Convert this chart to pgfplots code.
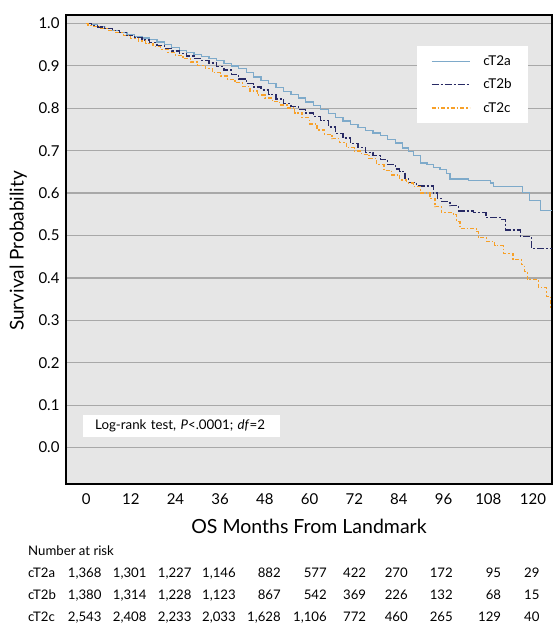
\documentclass[border=0pt]{standalone}
\usepackage{pgfplots}
\pgfplotsset{compat=1.18}
\usepackage{fontspec}
\setmainfont{Lato}
\definecolor{cA}{RGB}{126,170,202}
\definecolor{cB}{RGB}{40,42,100}
\definecolor{cC}{RGB}{247,160,40}
\definecolor{bgc}{RGB}{230,230,230}
\definecolor{gridc}{RGB}{168,168,168}
\begin{document}
\begin{tikzpicture}[x=1pt,y=1pt]
\useasboundingbox (0,0) rectangle (553,624);
\begin{axis}[
  at={(66pt,140pt)}, anchor=south west,
  width=486pt, height=469pt, scale only axis,
  xmin=-5.4, xmax=125.1, ymin=-0.086, ymax=1.02,
  axis background/.style={fill=bgc},
  ymajorgrids, grid style={gridc, line width=1.2pt},
  axis line style={black, line width=2.2pt},
  major tick length=0pt,
  xtick={0,12,24,36,48,60,72,84,96,108,120},
  ytick={0,0.1,0.2,0.3,0.4,0.5,0.6,0.7,0.8,0.9,1.0},
  /pgf/number format/assume math mode=true,
  yticklabel style={/pgf/number format/fixed, /pgf/number format/precision=1, /pgf/number format/fixed zerofill, font=\fontsize{15}{17}\selectfont, xshift=-3pt},
  xticklabel style={font=\fontsize{15}{17}\selectfont, yshift=-6pt},
  xlabel={OS Months From Landmark},
  xlabel style={at={(axis description cs:0.5,0)}, anchor=center, yshift=-42.7pt, font=\fontsize{19.5}{21}\selectfont},
  ylabel={Survival Probability},
  ylabel style={at={(axis description cs:-0.0981,0.497)}, anchor=center, font=\fontsize{19}{21}\selectfont},
  clip=true,
  legend style={at={(axis description cs:0.722,0.934)}, anchor=north west, draw=none, fill=white,
    font=\fontsize{13.5}{15}\selectfont, inner xsep=14pt, inner ysep=7.5pt, row sep=8pt,
    /tikz/every odd column/.append style={column sep=11pt}},
  legend cell align=left,
  legend image code/.code={\draw[#1, line width=1.3pt] (0pt,0pt) -- (38pt,0pt);},
]
\addplot[const plot, cA, line width=1.3pt] coordinates {
(0,1.000) (1.5,0.997) (3,0.993) (5,0.988) (7,0.984) (9,0.979) (11,0.974) (13,0.970)
(15,0.966) (17,0.962) (19,0.956) (21,0.950) (23,0.943) (25,0.937) (27,0.932) (29,0.927)
(31,0.922) (33,0.918) (35,0.912) (37,0.906) (39,0.900) (41,0.893) (43,0.884) (45,0.874)
(47,0.866) (49,0.858) (51,0.849) (53,0.840) (55,0.832) (57,0.824) (59,0.815) (61,0.806)
(63,0.797) (65,0.788) (67,0.779) (69,0.770) (71,0.762) (73,0.755) (75,0.748) (77,0.742)
(79,0.735) (81,0.727) (83,0.718) (85,0.706) (86.5,0.698) (88,0.688) (89.7,0.671) (91.5,0.667)
(93.2,0.661) (95,0.655) (96.8,0.647) (97.7,0.633) (102.7,0.630) (108.5,0.624) (109.3,0.616)
(117.2,0.601) (119,0.583) (122,0.559) (125.1,0.559)
};
\addlegendentry{cT2a}
\addplot[const plot, cB, line width=1.3pt, dash pattern=on 7pt off 2pt on 2pt off 2pt] coordinates {
(0,1.000) (1.5,0.996) (3,0.992) (5,0.988) (7,0.983) (9,0.978) (11,0.972) (13,0.967)
(15,0.961) (17,0.955) (19,0.948) (21,0.941) (23,0.935) (25,0.929) (27,0.923) (29,0.918)
(31,0.913) (33,0.907) (35,0.899) (37,0.890) (39,0.879) (41,0.869) (43,0.858) (45,0.850)
(47,0.843) (49,0.833) (51,0.822) (53,0.812) (55,0.805) (57,0.797) (59,0.789) (61,0.781)
(63,0.771) (65,0.756) (67,0.741) (69,0.730) (71,0.717) (73,0.707) (75,0.695) (77,0.688)
(79,0.679) (81,0.668) (83,0.657) (84.2,0.651) (85.6,0.635) (86.6,0.625) (88.8,0.617)
(93.2,0.600) (94.3,0.588) (95.5,0.580) (97.7,0.570) (99.9,0.558) (104.1,0.554) (107.4,0.543)
(111.6,0.537) (112.7,0.513) (116.6,0.497) (119.6,0.469) (125.1,0.469)
};
\addlegendentry{cT2b}
\addplot[const plot, cC, line width=1.3pt, dash pattern=on 4pt off 2pt on 1.5pt off 2pt] coordinates {
(0,1.000) (0.5,0.996) (2,0.993) (4,0.988) (6,0.984) (8,0.979) (10,0.972) (12,0.965)
(14,0.959) (16,0.953) (18,0.946) (20,0.939) (22,0.932) (24,0.925) (26,0.917) (28,0.909)
(30,0.901) (32,0.893) (34,0.884) (36,0.876) (38,0.868) (40,0.860) (42,0.852) (44,0.841)
(46,0.831) (48,0.824) (50,0.816) (52,0.808) (54,0.801) (56,0.789) (58,0.778) (60,0.763)
(62,0.749) (64,0.739) (66,0.728) (68,0.719) (70,0.707) (72,0.699) (74,0.691) (76,0.681)
(78,0.667) (80,0.654) (82,0.643) (84.2,0.631) (86,0.624) (87.9,0.616) (89.7,0.600)
(92.3,0.588) (93.7,0.568) (95.4,0.554) (98.6,0.549) (99.5,0.533) (100.4,0.517) (104.8,0.509)
(105.3,0.496) (107.5,0.486) (109.7,0.476) (112,0.458) (114.6,0.444) (116.9,0.431)
(117.7,0.415) (118.5,0.396) (121.4,0.378) (123.6,0.356) (124.7,0.329) (125.1,0.329)
};
\addlegendentry{cT2c}
\node[fill=white, anchor=south west, minimum width=197pt, minimum height=22pt, inner xsep=12pt, text width=173pt, align=left, font=\fontsize{13.3}{15}\selectfont]
  at (axis description cs:0.035,0.100) {Log-rank test, \textit{P}<.0001; \textit{df}=2};
\end{axis}
% number at risk table
\begin{scope}[font=\fontsize{13.2}{15}\selectfont, every node/.style={inner sep=0pt}]
\node[anchor=base west] at (28,68) {Number at risk};
\node[anchor=base west] at (28,46.7) {cT2a};
\node[anchor=base west] at (28,24) {cT2b};
\node[anchor=base west] at (28,2) {cT2c};
% cT2a
\node[anchor=base east] at (101.7,46.7) {1,368};
\node[anchor=base east] at (146.7,46.7) {1,301};
\node[anchor=base east] at (191.7,46.7) {1,227};
\node[anchor=base east] at (236,46.7) {1,146};
\node[anchor=base east] at (281,46.7) {882};
\node[anchor=base east] at (327,46.7) {577};
\node[anchor=base east] at (366.3,46.7) {422};
\node[anchor=base east] at (408,46.7) {270};
\node[anchor=base east] at (453,46.7) {172};
\node[anchor=base east] at (501.3,46.7) {95};
\node[anchor=base east] at (539.7,46.7) {29};
% cT2b
\node[anchor=base east] at (101.7,24) {1,380};
\node[anchor=base east] at (146.7,24) {1,314};
\node[anchor=base east] at (191.7,24) {1,228};
\node[anchor=base east] at (236,24) {1,123};
\node[anchor=base east] at (281,24) {867};
\node[anchor=base east] at (327,24) {542};
\node[anchor=base east] at (366.3,24) {369};
\node[anchor=base east] at (408,24) {226};
\node[anchor=base east] at (453,24) {132};
\node[anchor=base east] at (501.3,24) {68};
\node[anchor=base east] at (539.7,24) {15};
% cT2c
\node[anchor=base east] at (101.7,2) {2,543};
\node[anchor=base east] at (146.7,2) {2,408};
\node[anchor=base east] at (191.7,2) {2,233};
\node[anchor=base east] at (236,2) {2,033};
\node[anchor=base east] at (281,2) {1,628};
\node[anchor=base east] at (327,2) {1,106};
\node[anchor=base east] at (366.3,2) {772};
\node[anchor=base east] at (408,2) {460};
\node[anchor=base east] at (453,2) {265};
\node[anchor=base east] at (501.3,2) {129};
\node[anchor=base east] at (539.7,2) {40};
\end{scope}
\end{tikzpicture}
\end{document}
